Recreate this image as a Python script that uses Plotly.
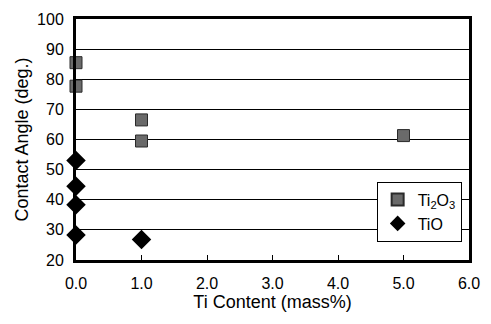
import plotly.graph_objects as go

ti2o3_x = [0.0, 0.0, 1.0, 1.0, 5.0]
ti2o3_y = [85.5, 77.7, 66.5, 59.5, 61.3]
tio_x = [0.0, 0.0, 0.0, 0.0, 1.0]
tio_y = [53.0, 44.5, 38.3, 28.3, 26.8]

x_ticks = [0, 1, 2, 3, 4, 5, 6]
y_ticks = [20, 30, 40, 50, 60, 70, 80, 90, 100]

fig = go.Figure()
fig.add_trace(go.Scatter(
    x=ti2o3_x, y=ti2o3_y, mode="markers", name="Ti<sub>2</sub>O<sub>3</sub>",
    marker=dict(symbol="square", size=12, color="#6a6a6a",
                line=dict(color="#2a2a2a", width=1)),
    cliponaxis=False))
fig.add_trace(go.Scatter(
    x=tio_x, y=tio_y, mode="markers", name="TiO",
    marker=dict(symbol="diamond", size=15, color="black",
                line=dict(color="black", width=0)),
    cliponaxis=False))

fig.update_layout(
    width=491, height=324,
    margin=dict(l=76, r=11, t=12, b=64),
    paper_bgcolor="white", plot_bgcolor="white",
    font=dict(family="Liberation Sans, Arial, sans-serif", size=16, color="black"),
    showlegend=True,
    legend=dict(x=0.765, y=0.325, xanchor="left", yanchor="top",
                bgcolor="white", bordercolor="black", borderwidth=1,
                font=dict(size=16), itemsizing="constant", itemwidth=30,
                tracegroupgap=0),
)
fig.update_xaxes(
    range=[0, 6], tickvals=x_ticks, ticktext=[f"{v:.1f}" for v in x_ticks],
    showgrid=False, zeroline=False, showline=True, linecolor="black", linewidth=3,
    mirror=True, ticks="inside", ticklen=5, tickcolor="black",
    ticklabelstandoff=7,
    tickfont=dict(size=16), title=dict(text="Ti Content (mass%)", font=dict(size=18), standoff=0),
)
fig.update_yaxes(
    range=[20, 100], tickvals=y_ticks,
    showgrid=True, gridcolor="black", gridwidth=1, zeroline=False,
    showline=True, linecolor="black", linewidth=3, mirror=True,
    ticks="", tickfont=dict(size=16), ticklabelstandoff=6,
    title=dict(text="Contact Angle (deg.)", font=dict(size=18), standoff=4),
)
fig.write_html("out.html")
